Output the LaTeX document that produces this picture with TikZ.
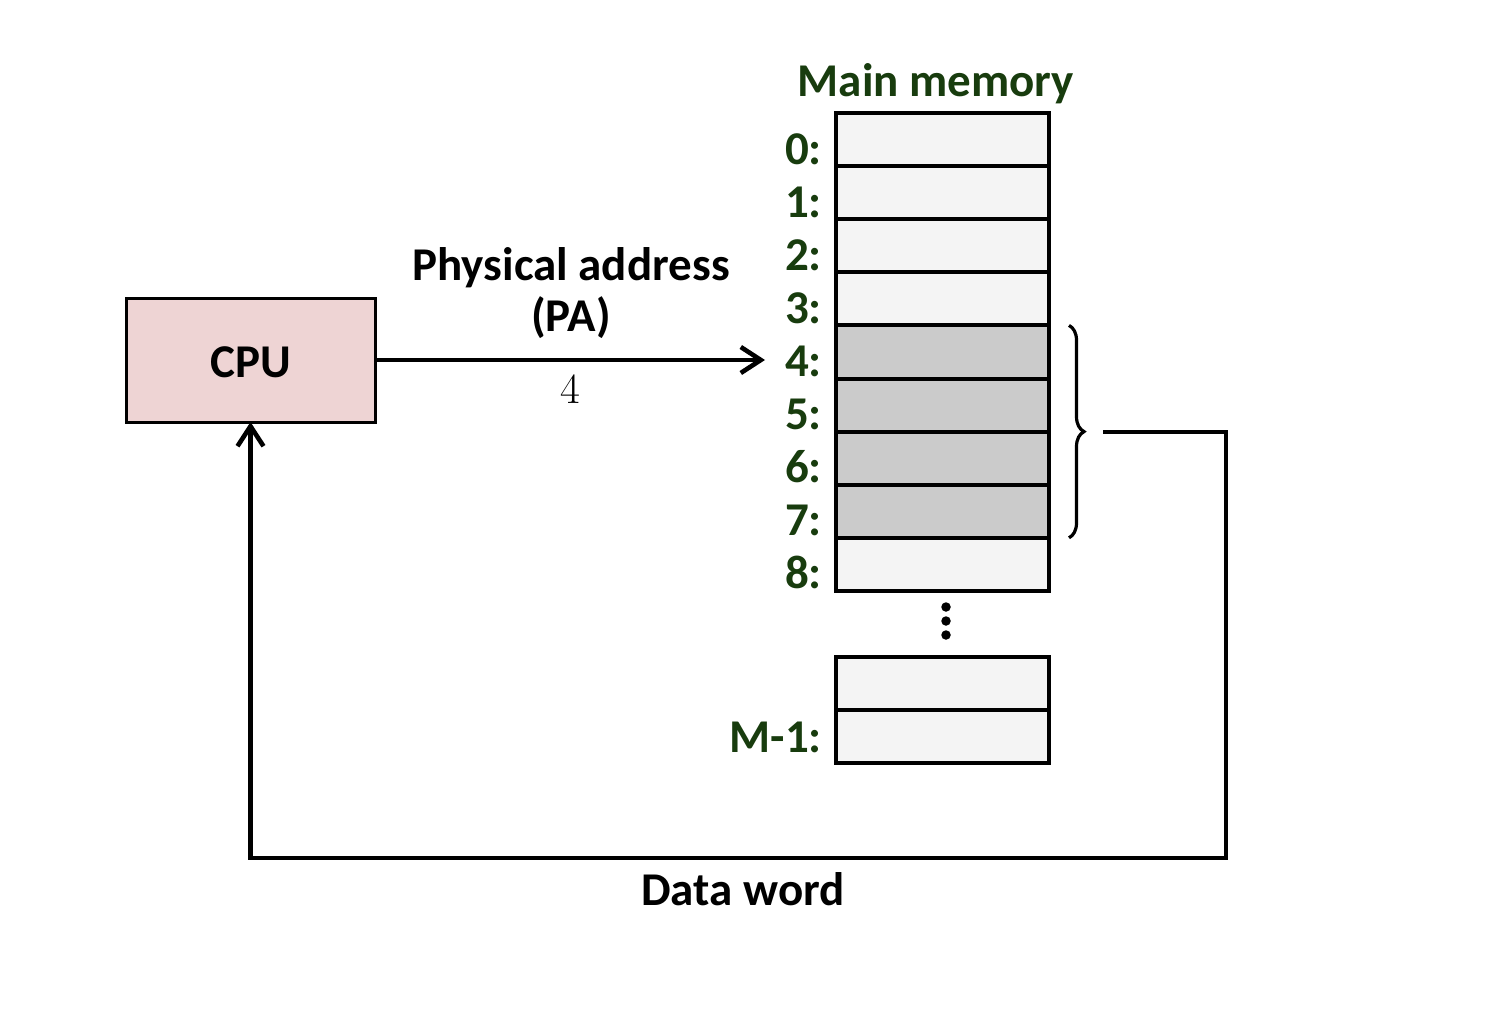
\documentclass[tikz,border=0pt]{standalone}
\usepackage{fontspec}
\setmainfont{Carlito}
\newfontfamily\lmfont{Latin Modern Roman}
\usetikzlibrary{arrows.meta,decorations.pathreplacing}
\definecolor{memgreen}{RGB}{24,60,14}
\definecolor{cpupink}{RGB}{238,212,212}
\definecolor{celllight}{RGB}{244,244,244}
\definecolor{celldark}{RGB}{203,203,203}
\tikzset{
  txt/.style={font=\fontsize{47}{51}\selectfont\bfseries, inner sep=0pt},
  lab/.style={txt, text=memgreen},
  cell/.style={draw, line width=4pt, minimum width=213pt, minimum height=53.1pt, inner sep=0pt, outer sep=0pt},
  cpubox/.style={draw, line width=3pt, fill=cpupink, minimum width=249pt, minimum height=124pt, inner sep=0pt, outer sep=0pt},
  conn/.style={line width=4.6pt},
  tipped/.style={conn, -{Straight Barb[length=20pt,width=26pt]}},
  bracestyle/.style={line width=3.2pt, decorate, decoration={brace, amplitude=15pt}},
  dot/.style={circle, fill=black, inner sep=0pt, minimum size=9.5pt}
}
\begin{document}
\begin{tikzpicture}[x=1pt,y=-1pt]
\useasboundingbox (0,0) rectangle (1500,1025);
% CPU
\node[cpubox] (cpu) at (250.5,360) {};
\node[txt] (cputxt) at (250.5,362) {CPU};
% Main memory title
\node[lab, anchor=base] (title) at (936,96) {Main memory};
% memory cells
\foreach \i/\f in {0/celllight,1/celllight,2/celllight,3/celllight,4/celldark,5/celldark,6/celldark,7/celldark,8/celllight}{
  \pgfmathsetmacro{\cy}{113+53.1*\i+26.55}
  \node[cell, fill=\f] (m\i) at (942.5,\cy) {};
}
\foreach \i in {0,...,8}{
  \node[lab, anchor=base east] (l\i) at ([xshift=-14pt,yshift=2pt]m\i.south west) {\i:};
}
% dots
\node[dot] (d1) at (946,607) {};
\node[dot] (d2) at (946,621) {};
\node[dot] (d3) at (946,635) {};
% last cells
\node[cell, fill=celllight] (ma) at (942.5,683.5) {};
\node[cell, fill=celllight] (mb) at (942.5,736.5) {};
\node[lab, anchor=base east] (lm) at (822,752) {M-1:};
% physical address arrow
\coordinate (paend) at (765,360);
\draw[tipped] (cpu.east) -- (paend);
\node[txt, anchor=base] (pa1) at (571,280) {Physical address};
\node[txt, anchor=base] (pa2) at (571,331) {(PA)};
\node[anchor=base, inner sep=0pt, font=\lmfont\fontsize{43}{46}\selectfont] (four) at (570,403) {4};
% brace
\draw[bracestyle] ([xshift=20pt]m4.north east) -- ([xshift=20pt]m7.south east);
\coordinate (bt) at (1103,432);
\coordinate (rc) at (1226,432);
\coordinate (rb) at (1226,858);
\draw[tipped] (bt) -- (rc) -- (rb) -| (cpu.south);
\node[txt, anchor=base] (dw) at (743,905) {Data word};
\end{tikzpicture}
\end{document}
